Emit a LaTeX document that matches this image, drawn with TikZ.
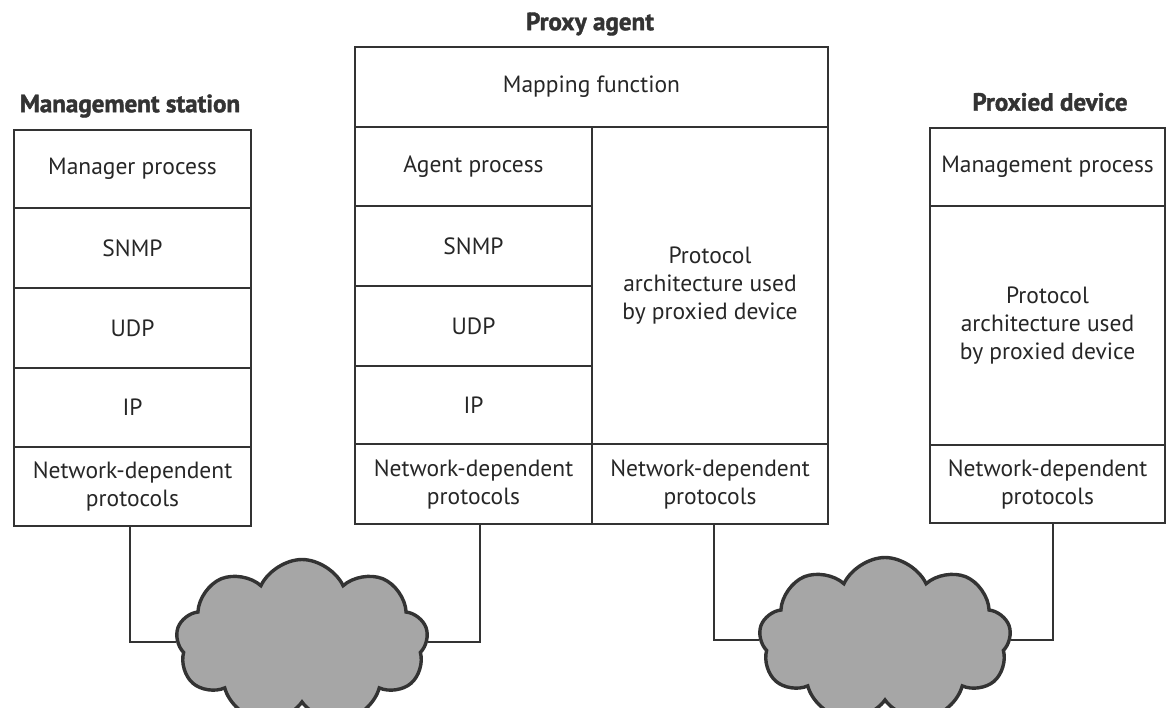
\documentclass[tikz,border=0pt]{standalone}
\usepackage{fontspec}
\setmainfont{PT Sans}
\newfontfamily\headfont{PT Sans}[BoldFeatures={FakeBold=1.6}]
\usetikzlibrary{shapes.symbols}
\tikzset{
  cell/.style={draw=black!80, line width=1.3pt, inner sep=0pt, align=center,
               font=\fontsize{23.5}{28}\selectfont, text=black!85},
  title/.style={font=\headfont\fontsize{25}{30}\selectfont\bfseries, text=black!80},
  net/.style={cloud, cloud puffs=9, cloud puff arc=130, aspect=1.5,
              draw=black!80, line width=3.4pt, fill=black!35, inner sep=0pt},
  link/.style={draw=black!80, line width=1.1pt}
}
\begin{document}
\begin{tikzpicture}[x=1pt,y=-1pt]
\useasboundingbox (0,0) rectangle (1167,707);

% Management station stack
\node[title] (mtitle) at (130,106) {Management station};
\node[cell, minimum width=237, minimum height=78] (m1) at (132.5,169) {Manager process};
\node[cell, minimum width=237, minimum height=80] (m2) at (132.5,248) {SNMP};
\node[cell, minimum width=237, minimum height=80] (m3) at (132.5,328) {UDP};
\node[cell, minimum width=237, minimum height=79] (m4) at (132.5,407.5) {IP};
\node[cell, minimum width=237, minimum height=79] (m5) at (132.5,486.5) {Network-dependent\\protocols};

% Proxy agent stack
\node[title] (ptitle) at (590,24) {Proxy agent};
\node[cell, minimum width=473, minimum height=80] (pmap) at (591.5,87) {Mapping function};
\node[cell, minimum width=237, minimum height=79] (p1) at (473.5,166.5) {Agent process};
\node[cell, minimum width=237, minimum height=80] (p2) at (473.5,246) {SNMP};
\node[cell, minimum width=237, minimum height=80] (p3) at (473.5,326) {UDP};
\node[cell, minimum width=237, minimum height=78] (p4) at (473.5,405) {IP};
\node[cell, minimum width=237, minimum height=80] (p5) at (473.5,484) {Network-dependent\\protocols};
\node[cell, minimum width=236, minimum height=317] (parch) at (710,285.5) {Protocol\\architecture used\\by proxied device};
\node[cell, minimum width=236, minimum height=80] (pnet) at (710,484) {Network-dependent\\protocols};

% Proxied device stack
\node[title] (dtitle) at (1050,102) {Proxied device};
\node[cell, minimum width=235, minimum height=78] (d1) at (1047.5,167) {Management process};
\node[cell, minimum width=235, minimum height=239] (d2) at (1047.5,325.5) {Protocol\\architecture used\\by proxied device};
\node[cell, minimum width=235, minimum height=78] (d3) at (1047.5,484) {Network-dependent\\protocols};

% Networks
\node[net, minimum width=252, minimum height=165] (cl) at (302,642) {};
\node[net, minimum width=252, minimum height=165] (cr) at (885,640) {};

% Attachments to the networks
\draw[link] ([xshift=-2.5]m5.south) |- (cl.west);
\draw[link] ([xshift=6.5]p5.south) |- (cl.east);
\draw[link] ([xshift=4]pnet.south) |- (cr.west);
\draw[link] ([xshift=5.5]d3.south) |- (cr.east);
\end{tikzpicture}
\end{document}
